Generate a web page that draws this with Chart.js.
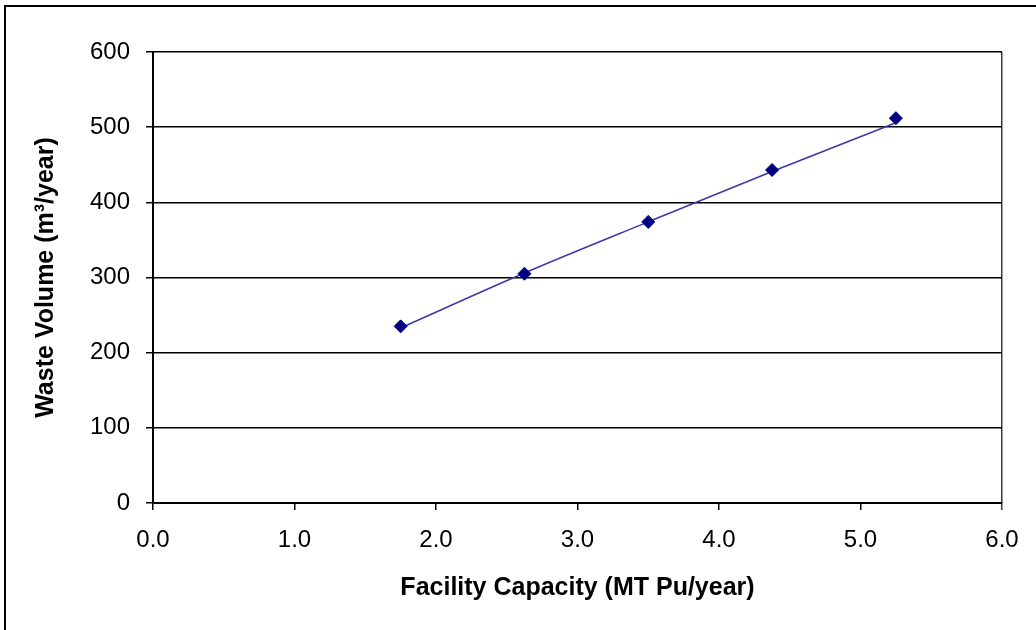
<!DOCTYPE html>
<html>
<head>
<meta charset="utf-8">
<script src="https://cdn.jsdelivr.net/npm/chart.js@4"></script>
<style>
  html, body { margin: 0; padding: 0; background: #fff; }
  #wrap { width: 1036px; height: 630px; position: relative; }
</style>
</head>
<body>
<div id="wrap"><canvas id="myChart" width="1036" height="630"></canvas></div>
<script>
// data
const capacity = [1.75, 2.625, 3.5, 4.375, 5.25]
const wasteVolume = [235, 305, 374, 443, 512]
const trendVolume = [233, 306, 374, 441, 506]
const xTicks = [0, 1, 2, 3, 4, 5, 6]
const yTicks = [0, 100, 200, 300, 400, 500, 600]

const toPoints = (xs, ys) => xs.map((x, i) => ({ x: x, y: ys[i] }))

const fontName = "'Liberation Sans', Arial, sans-serif"

// outer chart frame (only top and left edges are inside the picture)
const framePlugin = {
    id: 'frame',
    beforeDraw(chart) {
        const c = chart.ctx
        c.save()
        c.fillStyle = '#fff'
        c.fillRect(0, 0, chart.width, chart.height)
        c.strokeStyle = '#000'
        c.lineWidth = 2
        c.beginPath()
        c.moveTo(5, chart.height)
        c.lineTo(5, 6)
        c.lineTo(chart.width, 6)
        c.stroke()
        c.restore()
    }
}

const ctx = document.getElementById('myChart')

const wasteChart = new Chart(ctx, {
    type: 'scatter',
    data: {
        datasets: [
            {
                label: 'Waste Volume',
                data: toPoints(capacity, wasteVolume),
                pointStyle: 'rectRot',
                pointRadius: 6.5,
                pointBackgroundColor: '#000080',
                pointBorderColor: '#000080',
                pointBorderWidth: 1,
                showLine: false,
                order: 1,
            },
            {
                label: 'Trend',
                data: toPoints(capacity, trendVolume),
                showLine: true,
                borderColor: '#3a3aa8',
                borderWidth: 1.6,
                pointRadius: 0,
                cubicInterpolationMode: 'monotone',
                order: 2,
            },
        ]
    },
    options: {
        responsive: false,
        animation: false,
        layout: { padding: { left: 0, top: 52, right: 34, bottom: 0 } },
        plugins: {
            legend: { display: false },
            tooltip: { enabled: false },
        },
        scales: {
            x: {
                type: 'linear',
                min: 0,
                max: 6,
                afterBuildTicks: (scale) => { scale.ticks = xTicks.map(v => ({ value: v })) },
                afterFit: (scale) => { scale.height = 127 },
                border: { display: true, color: '#000', width: 2 },
                grid: {
                    drawOnChartArea: true,
                    drawTicks: true,
                    tickLength: 7,
                    lineWidth: 1.5,
                    color: (c) => c.tick && c.tick.value === 6 ? '#3c3c3c' : 'rgba(0,0,0,0)',
                    tickColor: (c) => c.tick && c.tick.value === 6 ? '#3c3c3c' : '#000',
                    tickWidth: 1.5,
                },
                ticks: {
                    color: '#000',
                    padding: 16,
                    maxRotation: 0,
                    font: { family: fontName, size: 24 },
                    callback: (v) => Number(v).toFixed(1),
                },
                title: {
                    display: true,
                    text: 'Facility Capacity (MT Pu/year)',
                    color: '#000',
                    font: { family: fontName, size: 25, weight: 'bold' },
                    padding: { top: 0, bottom: 27 },
                },
            },
            y: {
                type: 'linear',
                min: 0,
                max: 600,
                afterBuildTicks: (scale) => { scale.ticks = yTicks.map(v => ({ value: v })) },
                afterFit: (scale) => { scale.width = 153 },
                border: { display: true, color: '#000', width: 2 },
                grid: {
                    drawOnChartArea: true,
                    drawTicks: true,
                    tickLength: 7,
                    color: '#000',
                    lineWidth: 1.5,
                },
                ticks: {
                    color: '#000',
                    padding: 16,
                    font: { family: fontName, size: 24 },
                },
                title: {
                    display: true,
                    text: 'Waste Volume (m³/year)',
                    color: '#000',
                    font: { family: fontName, size: 25, weight: 'bold' },
                    padding: { top: 31, bottom: 0 },
                },
            },
        },
    },
    plugins: [framePlugin],
})
</script>
</body>
</html>
